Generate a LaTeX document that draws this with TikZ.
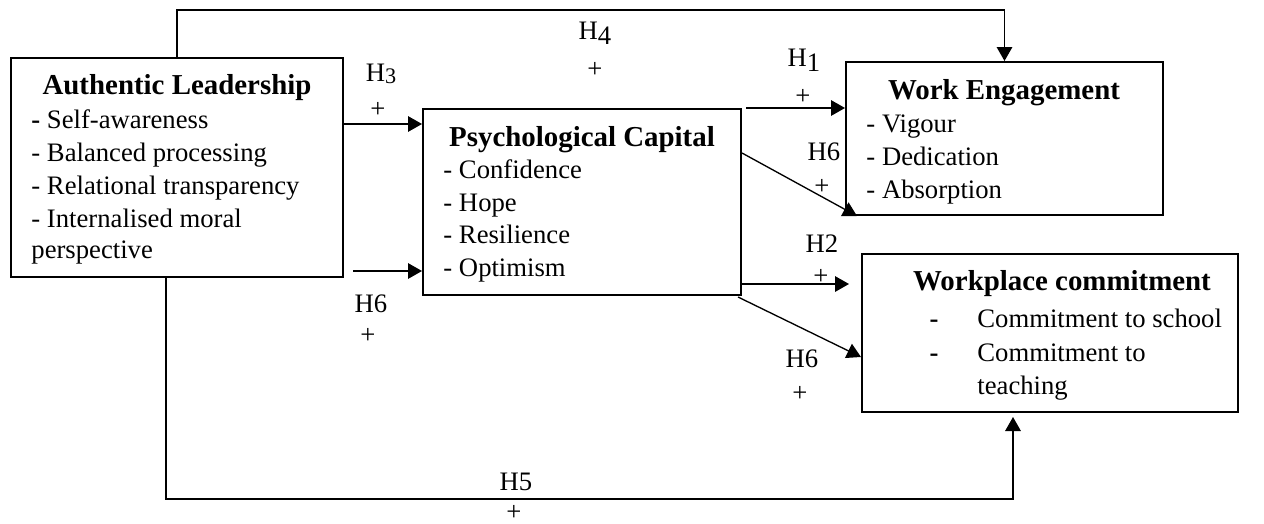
\documentclass[tikz,border=0pt]{standalone}
\usepackage{fontspec}
\setmainfont{Liberation Serif}
\usetikzlibrary{arrows.meta,calc,fit}
\begin{document}
\begin{tikzpicture}[x=0.45pt,y=-0.45pt,
  box/.style={draw, line width=0.9pt, inner sep=0pt},
  ttl/.style={font=\fontsize{13}{15}\selectfont\bfseries, inner sep=0pt, anchor=base},
  itm/.style={font=\fontsize{12}{14}\selectfont, inner sep=0pt, anchor=base west},
  lbl/.style={font=\fontsize{12}{14}\selectfont, inner sep=0pt, anchor=base},
  pls/.style={font=\fontsize{12}{14}\selectfont, inner sep=0pt, anchor=center},
  conn/.style={line width=0.6pt, -{Triangle[length=6.3pt,width=7pt]}}
]
\useasboundingbox (0,0) rectangle (1264,523);

% boxes
\node[box, fit={(11,58) (343,277)}] (al) {};
\node[box, fit={(423,109) (741,295)}] (pc) {};
\node[box, fit={(846,62) (1163,215)}] (we) {};
\node[box, fit={(862,254) (1238,412)}] (wc) {};

% Authentic Leadership text
\node[ttl] (alt) at (177,94) {Authentic Leadership};
\node[itm] (al1) at (31,128) {\textbf{-} Self-awareness};
\node[itm] (al2) at (31,161) {- Balanced processing};
\node[itm] (al3) at (31,194) {- Relational transparency};
\node[itm] (al4) at (31,227) {- Internalised moral};
\node[itm] (al5) at (31,258) {perspective};

% Psychological Capital text
\node[ttl] (pct) at (582,146) {Psychological Capital};
\node[itm] (pc1) at (443,178) {- Confidence};
\node[itm] (pc2) at (443,211) {- Hope};
\node[itm] (pc3) at (443,243) {- Resilience};
\node[itm] (pc4) at (443,276) {- Optimism};

% Work Engagement text
\node[ttl] (wet) at (1004,99) {Work Engagement};
\node[itm] (we1) at (866,132) {- Vigour};
\node[itm] (we2) at (866,165) {- Dedication};
\node[itm] (we3) at (866,198) {- Absorption};

% Workplace commitment text
\node[ttl] (wct) at (1062,290) {Workplace commitment};
\node[lbl] (wcd1) at (934,327) {\textbf{-}};
\node[itm] (wc1) at (977,327) {Commitment to school};
\node[lbl] (wcd2) at (934,361) {\textbf{-}};
\node[itm] (wc2) at (977,361) {Commitment to};
\node[itm] (wc3) at (977,394) {teaching};

% connectors
\coordinate (top) at (600,10);
\draw[conn] (al.north) |- (top) -| (we.north);

\coordinate (bot) at (600,499);
\draw[conn] ($(al.south)+(-11,0)$) |- (bot) -| ($(wc.south)+(-37,4)$);

\coordinate (a3) at ($(al.north east)+(0,67)$);
\draw[conn] (a3) -- (a3 -| pc.west);

\coordinate (a6) at ($(al.south east)+(9,-7)$);
\draw[conn] (a6) -- (a6 -| pc.west);

\coordinate (b1) at ($(pc.north east)+(4,0)$);
\draw[conn] (b1) -- (b1 -| we.west);

\draw[conn] ($(pc.north east)+(0,45)$) -- ($(we.south west)+(12,0)$);

\coordinate (b2) at ($(pc.south east)+(0,-12)$);
\draw[conn] (b2) -- ($(b2 -| wc.west)+(-12,0)$);

\draw[conn] ($(pc.south east)+(-4,1)$) -- ($(wc.north west)+(0,104)$);

% labels
\node[lbl] (h3) at (381,81) {H\raisebox{-1pt}{\fontsize{10}{10}\selectfont 3}};
\node[pls] (p3) at (378,110) {+};
\node[lbl] (h4) at (595,39) {H\raisebox{-2.6pt}{4}};
\node[pls] (p4) at (595,70) {+};
\node[lbl] (h1) at (804,66) {H\raisebox{-2.6pt}{1}};
\node[pls] (p1) at (803,97) {+};
\node[lbl] (h6a) at (824,160) {H6};
\node[pls] (p6a) at (822,187) {+};
\node[lbl] (h2) at (822,252) {H2};
\node[pls] (p2) at (821,277) {+};
\node[lbl] (h6b) at (371,312) {H6};
\node[pls] (p6b) at (368,336) {+};
\node[lbl] (h6c) at (802,367) {H6};
\node[pls] (p6c) at (800,394) {+};
\node[lbl] (h5) at (516,490) {H5};
\node[pls] (p5) at (514,513) {+};
\end{tikzpicture}
\end{document}
